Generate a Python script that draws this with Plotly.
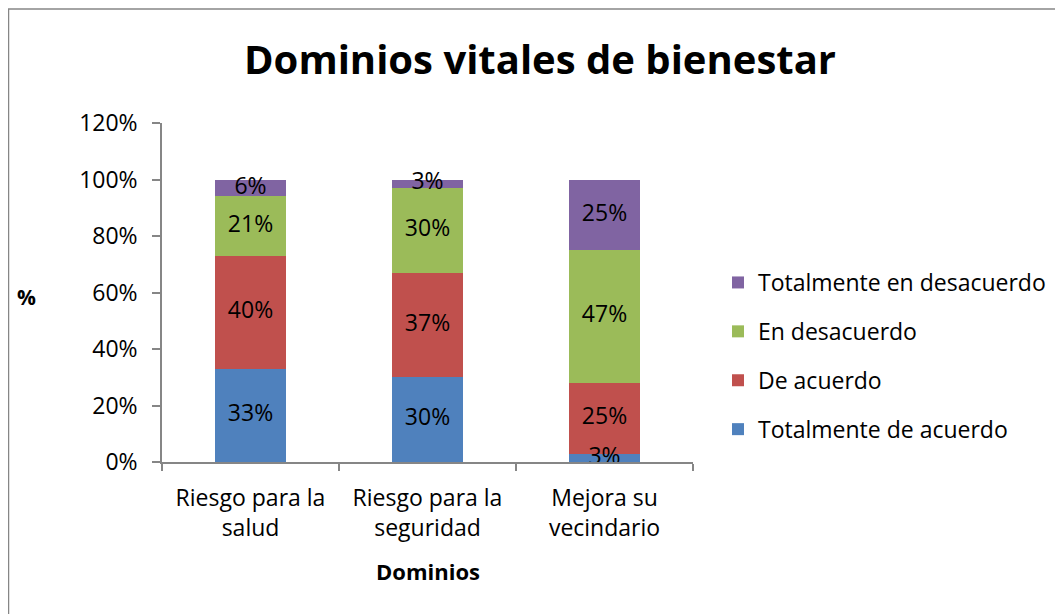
import plotly.graph_objects as go

# data (fractions of 1)
categorias = ["Riesgo para la<br>salud", "Riesgo para la<br>seguridad", "Mejora su<br>vecindario"]
tot_acuerdo = [0.33, 0.30, 0.03]
de_acuerdo = [0.40, 0.37, 0.25]
en_desacuerdo = [0.21, 0.30, 0.47]
tot_desacuerdo = [0.06, 0.03, 0.25]
y_ticks = [0, 0.2, 0.4, 0.6, 0.8, 1.0, 1.2]

series = [
    ("Totalmente de acuerdo", tot_acuerdo, "#4F81BD"),
    ("De acuerdo", de_acuerdo, "#C0504D"),
    ("En desacuerdo", en_desacuerdo, "#9BBB59"),
    ("Totalmente en desacuerdo", tot_desacuerdo, "#8064A2"),
]

FONT = "Open Sans"
W, H = 1063, 614
L, R, T, B = 154, 378, 115, 160
pw, ph = W - L - R, H - T - B

fig = go.Figure()
base = [0.0] * len(categorias)
for rank, (name, vals, col) in enumerate(series):
    fig.add_trace(go.Bar(
        x=categorias, y=vals, name=name, legendgroup=name,
        legendrank=10 - rank,
        marker=dict(color=col, line=dict(width=0)),
    ))
    # data labels centred on each segment (kept outside the clip so the
    # small 3% label can overlap the axis like the original)
    mids = [b + v / 2 for b, v in zip(base, vals)]
    fig.add_trace(go.Scatter(
        x=categorias, y=mids, mode="text",
        text=[f"{v:.0%}" for v in vals], textposition="middle center",
        textfont=dict(color="black", size=23, family=FONT),
        showlegend=False, hoverinfo="skip", cliponaxis=False,
    ))
    base = [b + v for b, v in zip(base, vals)]

axis_col = "#868686"

fig.update_layout(
    width=W, height=H,
    barmode="stack", bargap=0.6,
    paper_bgcolor="white", plot_bgcolor="white",
    margin=dict(l=L, r=R, t=T, b=B),
    font=dict(family=FONT, size=21, color="black"),
    title=dict(text="<b>Dominios vitales de bienestar</b>",
               font=dict(size=40, family=FONT, color="black"),
               x=532 / W, xref="container", xanchor="center",
               y=1 - 52 / H, yref="container", yanchor="middle"),
    xaxis=dict(showline=True, linecolor=axis_col, linewidth=1.5,
               ticks="outside", tickson="boundaries", ticklen=7,
               tickcolor=axis_col, tickwidth=1.5, ticklabelstandoff=15,
               tickfont=dict(size=23, family=FONT, color="black"),
               showgrid=False),
    yaxis=dict(range=[0, 1.2], tickvals=y_ticks, tickformat=".0%",
               showline=True, linecolor=axis_col, linewidth=1.5,
               ticks="outside", ticklen=8, tickcolor=axis_col, tickwidth=1.5,
               ticklabelstandoff=10,
               tickfont=dict(size=23, family=FONT, color="black"),
               showgrid=False, zeroline=False),
    legend=dict(tracegroupgap=16,
                xref="container", x=710 / W, xanchor="left",
                yref="container", y=1 - 348 / H, yanchor="middle",
                font=dict(size=23, family=FONT, color="black"),
                bgcolor="rgba(0,0,0,0)"),
    annotations=[
        dict(text="<b>%</b>", xref="paper", yref="paper",
             x=(18.5 - L) / pw, y=(H - B - 289) / ph, showarrow=False,
             xanchor="center", yanchor="middle",
             font=dict(size=21, family=FONT, color="black")),
        dict(text="<b>Dominios</b>", xref="paper", yref="paper",
             x=0.5, y=(H - B - 563) / ph, showarrow=False,
             xanchor="center", yanchor="middle",
             font=dict(size=22, family=FONT, color="black")),
    ],
    shapes=[
        dict(type="rect", xref="paper", yref="paper",
             x0=(0.5 - L) / pw, x1=(W + 20 - L) / pw,
             y0=(H - B - (H + 20)) / ph, y1=(H - B - 1) / ph,
             line=dict(color=axis_col, width=1.5), fillcolor="rgba(0,0,0,0)",
             layer="below"),
    ],
)

fig.write_html("out.html")
